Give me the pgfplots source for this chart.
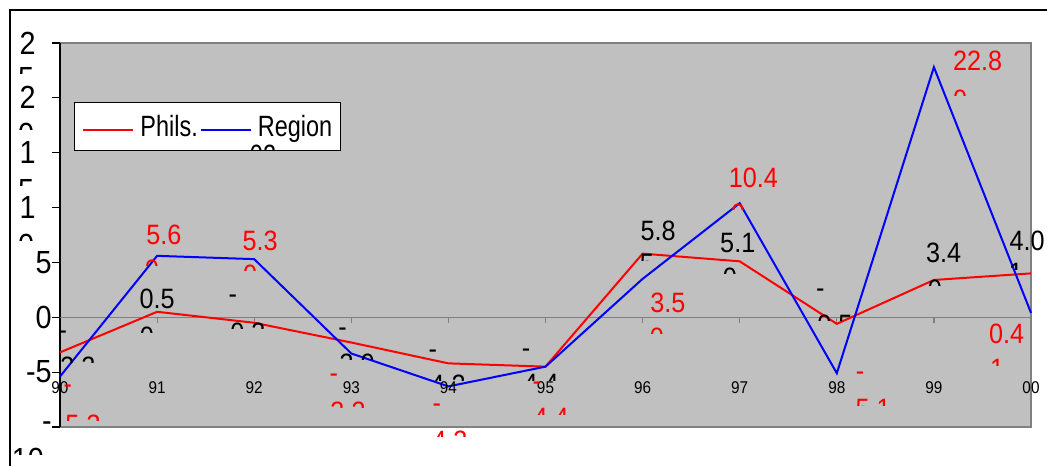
\documentclass[border=0pt]{standalone}
\usepackage{fontspec}
\setmainfont{Liberation Sans}[FakeStretch=0.9]
\newfontfamily\narrowfont{Liberation Sans}[FakeStretch=0.8]
\usepackage{pgfplots}
\pgfplotsset{compat=1.18}
\definecolor{plotgray}{RGB}{192,192,192}
\definecolor{framegray}{RGB}{128,128,128}
% clipped second-line fragment of a wrapped label: x, y (axis cs), colour, font, text
\newcommand{\frag}[5]{%
  \begin{scope}
  \clip ([shift={(-20pt,0.75pt)}]axis cs:#1,#2) rectangle ([shift={(20pt,-4.5pt)}]axis cs:#1,#2);
  \node[anchor=north, inner sep=0pt, text=#3, font=#4] at (axis cs:#1,#2) {#5};
  \end{scope}}
\newcommand{\lblfont}{\fontsize{21}{25}\selectfont}
\newcommand{\yfont}{\fontsize{24}{28}\selectfont}
\begin{document}
\begin{tikzpicture}
\path[use as bounding box] (0,0) rectangle (785.25pt,349.5pt);
\draw[black,line width=0.9pt] (7.5pt,-2pt) -- (7.5pt,342pt) -- (790pt,342pt);
\begin{axis}[
  at={(45pt,29.25pt)}, anchor=south west,
  scale only axis, width=728.25pt, height=288pt,
  xmin=0, xmax=10, ymin=-10, ymax=25,
  axis background/.style={fill=plotgray},
  axis line style={draw=none},
  xtick=\empty,
  ytick={-10,-5,0,5,10,15,20,25},
  yticklabels={{-\hspace{16pt}},{-5},{0},{5},{1\phantom{0}},{1\phantom{5}},{2\phantom{0}},{2\phantom{5}}},
  ytick pos=left, tick align=outside, major tick length=6pt,
  tick style={black, line width=0.9pt},
  yticklabel style={font=\yfont, anchor=east, inner sep=0pt},
  clip=false,
  legend style={at={(0.0144,0.846)}, anchor=north west, draw=black, fill=white,
    line width=0.75pt, font=\narrowfont\fontsize{22}{26}\selectfont, legend columns=2,
    inner xsep=6pt, inner ysep=9.3pt,
    nodes={inner sep=0pt, anchor=base west},
    /tikz/every odd column/.append style={column sep=4.5pt},
    /tikz/every even column/.append style={column sep=1.5pt}},
  legend image code/.code={\draw[#1, line width=1.5pt] (0pt,5pt) -- (37.5pt,5pt);},
]
% frame and zero line
\draw[framegray, line width=1.2pt] (rel axis cs:0,0) -- (rel axis cs:1,0) -- (rel axis cs:1,1) -- (rel axis cs:0,1);
\draw[black, line width=1.2pt] (rel axis cs:0,0) -- (rel axis cs:0,1);
\draw[framegray, line width=0.9pt] (axis cs:0,0) -- (axis cs:10,0);
\pgfplotsinvokeforeach{1,...,9}{\draw[framegray, line width=0.9pt] (axis cs:#1,0) -- ++(0pt,-4pt);}

\addplot[red, line width=1.5pt] coordinates {(0,-3.2) (1,0.5) (2,-0.5) (3,-2.3) (4,-4.2) (5,-4.5) (6,5.8) (7,5.1) (8,-0.6) (9,3.4) (10,4.0)};
\addlegendentry{Phils.}
\addplot[blue, line width=1.5pt] coordinates {(0,-5.4) (1,5.6) (2,5.3) (3,-3.3) (4,-6.3) (5,-4.5) (6,3.5) (7,10.4) (8,-5.1) (9,22.8) (10,0.4)};
\addlegendentry{Region}

\coordinate (legfrag) at (axis cs:2.091,15.70);

% category labels
\begin{scope}[every node/.style={font=\fontsize{12.75}{14}\selectfont, inner sep=0pt}]
\node at (axis cs:0,-6.43) {90};
\node at (axis cs:1,-6.43) {91};
\node at (axis cs:2,-6.43) {92};
\node at (axis cs:3,-6.43) {93};
\node at (axis cs:4,-6.43) {94};
\node at (axis cs:5,-6.43) {95};
\node at (axis cs:6,-6.43) {96};
\node at (axis cs:7,-6.43) {97};
\node at (axis cs:8,-6.43) {98};
\node at (axis cs:9,-6.43) {99};
\node at (axis cs:10,-6.43) {00};
\end{scope}

% data labels Phils. (black)
\begin{scope}[every node/.style={font=\lblfont, inner sep=0pt, text=black}]
\node at (axis cs:0.03,-1.64) {-};
\node at (axis cs:1.0,1.64) {0.5};
\node at (axis cs:1.78,1.64) {-};
\node at (axis cs:2.91,-1.37) {-};
\node at (axis cs:3.84,-3.37) {-};
\node at (axis cs:4.80,-3.28) {-};
\node at (axis cs:6.16,7.84) {5.8};
\node at (axis cs:6.98,6.74) {5.1};
\node at (axis cs:7.83,2.19) {-};
\node at (axis cs:9.10,5.83) {3.4};
\node at (axis cs:9.96,7.0) {4.0};
\end{scope}
% data labels Region (red)
\begin{scope}[every node/.style={font=\lblfont, inner sep=0pt, text=red}]
\node at (axis cs:0.08,-6.56) {-};
\node at (axis cs:1.07,7.47) {5.6};
\node at (axis cs:2.06,6.93) {5.3};
\node at (axis cs:2.82,-5.56) {-};
\node at (axis cs:3.88,-8.29) {-};
\node at (axis cs:4.91,-6.29) {-};
\node at (axis cs:6.26,1.28) {3.5};
\node at (axis cs:7.14,12.67) {10.4};
\node at (axis cs:8.24,-5.38) {-};
\node at (axis cs:9.45,23.33) {22.8};
\node at (axis cs:9.75,-1.55) {0.4};
\end{scope}

% clipped second lines of the wrapped labels
\frag{0.185}{-3.555}{black}{\lblfont}{3.2}
\frag{0.896}{-0.820}{black}{\lblfont}{0}
\frag{1.936}{-0.456}{black}{\lblfont}{0.3}
\frag{3.059}{-3.281}{black}{\lblfont}{3.0}
\frag{3.996}{-5.195}{black}{\lblfont}{4.2}
\frag{4.954}{-5.195}{black}{\lblfont}{4.4}
\frag{6.045}{5.742}{black}{\lblfont}{5}
\frag{6.900}{4.557}{black}{\lblfont}{0}
\frag{7.981}{0.273}{black}{\lblfont}{0.5}
\frag{9.011}{3.464}{black}{\lblfont}{0}
\frag{9.845}{4.922}{black}{\lblfont}{1}
\frag{0.237}{-8.841}{red}{\lblfont}{5.3}
\frag{0.947}{5.287}{red}{\lblfont}{0}
\frag{1.957}{4.831}{red}{\lblfont}{0}
\frag{2.966}{-7.656}{red}{\lblfont}{3.3}
\frag{4.016}{-10.30}{red}{\lblfont}{4.3}
\frag{5.057}{-8.295}{red}{\lblfont}{4.4}
\frag{6.148}{-0.911}{red}{\lblfont}{0}
\frag{6.983}{10.39}{red}{\lblfont}{0}
\frag{8.373}{-7.474}{red}{\lblfont}{5.1}
\frag{9.269}{20.78}{red}{\lblfont}{0}
\frag{9.650}{-3.828}{red}{\lblfont}{1}
% second lines of the wrapped tick labels
\frag{-0.350}{22.79}{black}{\yfont}{5}
\frag{-0.350}{17.68}{black}{\yfont}{0}
\frag{-0.350}{12.58}{black}{\yfont}{5}
\frag{-0.350}{7.57}{black}{\yfont}{0}
\frag{-0.330}{-11.94}{black}{\yfont}{10}
\end{axis}
\begin{scope}
\clip ([shift={(-20pt,0.75pt)}]legfrag) rectangle ([shift={(20pt,-3.5pt)}]legfrag);
\node[anchor=north, inner sep=0pt, font=\narrowfont\fontsize{22}{26}\selectfont] at (legfrag) {02};
\end{scope}
\end{tikzpicture}
\end{document}
